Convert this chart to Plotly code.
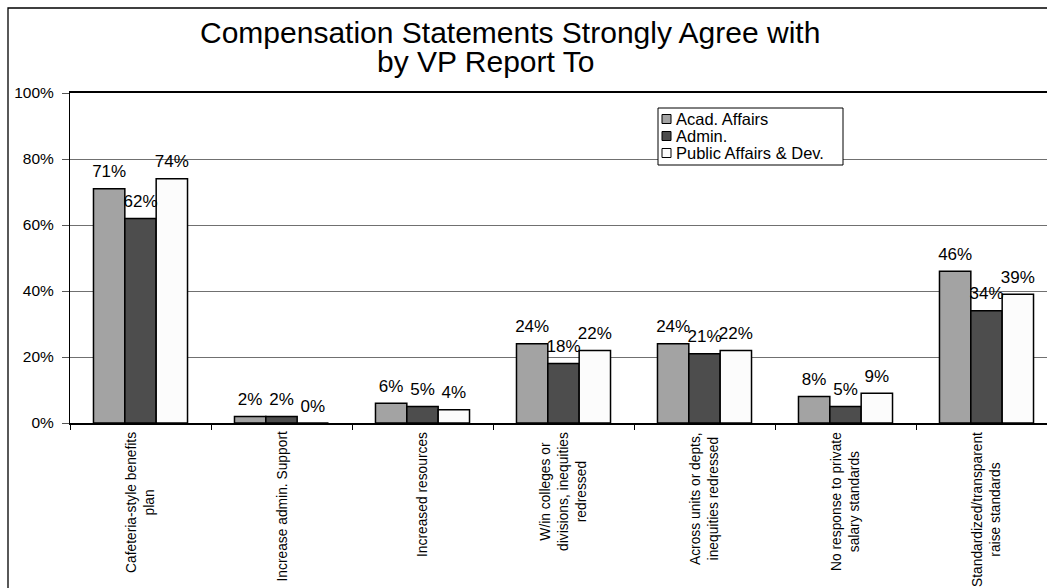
import plotly.graph_objects as go

# ---- data -------------------------------------------------------------
categories = [
    "Cafeteria-style benefits<br>plan",
    "Increase admin. Support",
    "Increased resources",
    "W/in colleges or<br>divisions, inequities<br>redressed",
    "Across units or depts,<br>inequities redressed",
    "No response to private<br>salary standards",
    "Standardized/transparent<br>raise standards",
]
series_names = ["Acad. Affairs", "Admin.", "Public Affairs & Dev."]
acad_affairs = [71, 2, 6, 24, 24, 8, 46]
admin = [62, 2, 5, 18, 21, 5, 34]
public_affairs_dev = [74, 0, 4, 22, 22, 9, 39]
y_ticks = [0, 20, 40, 60, 80, 100]
y_tick_labels = ["0%", "20%", "40%", "60%", "80%", "100%"]

title_lines = ["Compensation Statements Strongly Agree with", "by VP Report To"]

# ---- styling ----------------------------------------------------------
FONT = "Liberation Sans, Arial, sans-serif"
colors = ["#a3a3a3", "#4d4d4d", "#fcfcfc"]
series = [acad_affairs, admin, public_affairs_dev]

W, H = 1047, 588
L, R, T, B = 70, 0, 93, 165
plot_w = W - L - R
plot_h = H - T - B
BARGAP = 0.333


def px_x(px):
    """Pixel x -> paper fraction."""
    return (px - L) / plot_w


def px_y(py):
    """Pixel y (from top) -> paper fraction."""
    return (H - B - py) / plot_h


fig = go.Figure()

for name, vals, col in zip(series_names, series, colors):
    fig.add_trace(go.Bar(
        x=categories, y=vals, name=name,
        marker=dict(color=col, line=dict(color="black", width=1.5)),
        showlegend=False,
        hovertemplate=name + ": %{y}%<extra></extra>",
    ))

# value labels above each bar, grouped alongside the bars
for name, vals in zip(series_names, series):
    fig.add_trace(go.Scatter(
        x=categories, y=vals, mode="markers+text",
        text=[f"{v}%" for v in vals],
        textposition="top center",
        textfont=dict(family=FONT, size=17, color="black"),
        marker=dict(size=10, color="rgba(0,0,0,0)"),
        showlegend=False, hoverinfo="skip", cliponaxis=False,
    ))

annotations = []

# title, two centred lines
annotations.append(dict(
    text=title_lines[0], x=px_x(510), y=px_y(32), xref="paper", yref="paper",
    xanchor="center", yanchor="middle", showarrow=False,
    font=dict(family=FONT, size=30, color="black"),
))
annotations.append(dict(
    text=title_lines[1], x=px_x(485), y=px_y(62), xref="paper", yref="paper",
    xanchor="center", yanchor="middle", showarrow=False,
    font=dict(family=FONT, size=30, color="black"),
))

# rotated category labels under the axis
for cat in categories:
    annotations.append(dict(
        text=cat, x=cat, y=0, xref="x", yref="y",
        xanchor="center", yanchor="top", yshift=-7,
        textangle=-90, align="center", showarrow=False,
        font=dict(family=FONT, size=13.8, color="black"),
    ))

shapes = []

# outer chart frame
shapes.append(dict(
    type="rect", xref="paper", yref="paper",
    x0=px_x(8), x1=px_x(W + 40), y0=px_y(H + 40), y1=px_y(8),
    line=dict(color="black", width=1.3), fillcolor="rgba(0,0,0,0)",
    layer="above",
))

# legend box
leg_x0, leg_x1, leg_y0, leg_y1 = 658, 843, 108, 165
shapes.append(dict(
    type="rect", xref="paper", yref="paper",
    x0=px_x(leg_x0), x1=px_x(leg_x1), y0=px_y(leg_y1), y1=px_y(leg_y0),
    line=dict(color="black", width=1), fillcolor="white", layer="above",
))
row_centres = [119, 136, 153]
for name, col, yc in zip(series_names, colors, row_centres):
    shapes.append(dict(
        type="rect", xref="paper", yref="paper",
        x0=px_x(662), x1=px_x(671), y0=px_y(yc + 4.5), y1=px_y(yc - 4.5),
        line=dict(color="black", width=1), fillcolor=col, layer="above",
    ))
    annotations.append(dict(
        text=name, x=px_x(674), y=px_y(yc), xref="paper", yref="paper",
        xanchor="left", yanchor="middle", showarrow=False,
        font=dict(family=FONT, size=16.5, color="black"),
    ))

fig.update_layout(
    width=W, height=H, autosize=False,
    margin=dict(l=L, r=R, t=T, b=B, pad=0),
    paper_bgcolor="white", plot_bgcolor="white",
    barmode="group", bargap=BARGAP, bargroupgap=0,
    scattermode="group", scattergap=BARGAP,
    showlegend=False,
    font=dict(family=FONT, color="black"),
    xaxis=dict(
        type="category", range=[-0.5, -0.5 + plot_w / 141.0],
        showticklabels=False, ticks="outside", tickson="boundaries",
        ticklen=5, tickcolor="black", tickwidth=1,
        showline=True, linecolor="black", linewidth=1.5, mirror=True,
        showgrid=False, fixedrange=True,
    ),
    yaxis=dict(
        range=[0, 100], tickmode="array", tickvals=y_ticks, ticktext=y_tick_labels,
        ticks="outside", ticklen=7, tickcolor="#555555", tickwidth=1,
        ticklabelstandoff=5,
        tickfont=dict(family=FONT, size=15.5, color="black"),
        showline=True, linecolor="black", linewidth=1,
        showgrid=True, gridcolor="#707070", gridwidth=1,
        zeroline=False, fixedrange=True,
    ),
    annotations=annotations,
    shapes=shapes,
)

fig.write_html("out.html")
